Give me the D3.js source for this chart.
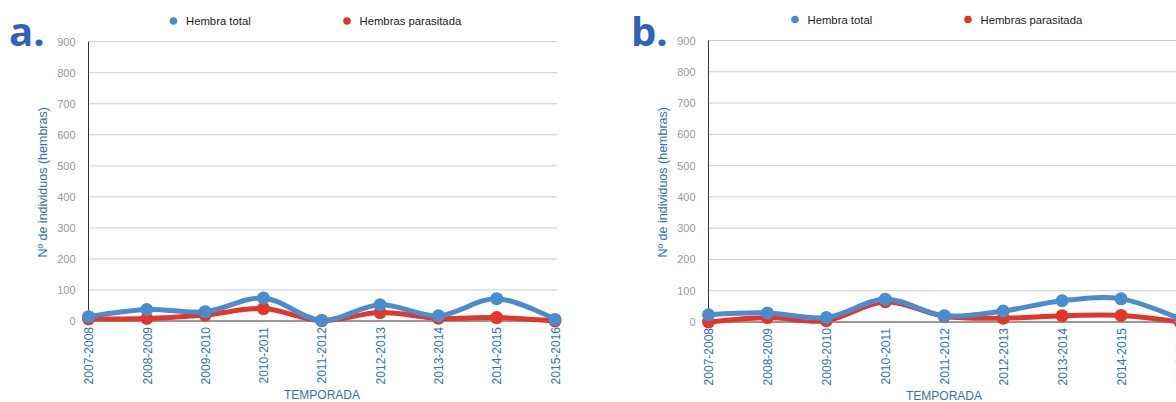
<!DOCTYPE html>
<html>
<head>
<meta charset="utf-8">
<script src="https://cdn.jsdelivr.net/npm/d3@7"></script>
<style>
  html, body { margin: 0; padding: 0; background: #fff; }
  svg { display: block; font-family: "Liberation Sans", Arial, sans-serif; }
</style>
</head>
<body>
<svg id="chart" width="1176" height="402"></svg>
<script>
// Seasons on the x axis
const temporadas = ["2007-2008", "2008-2009", "2009-2010", "2010-2011", "2011-2012",
                    "2012-2013", "2013-2014", "2014-2015", "2015-2016"];

// Panel a
const hembraTotalA = [14, 37, 30, 74, 2, 52, 17, 72, 5];
const parasitadaA  = [7, 8, 19, 40, 1, 27, 9, 11, 0];

// Panel b
const hembraTotalB = [23, 29, 14, 73, 20, 35, 68, 74, 10];
const parasitadaB  = [0, 14, 4, 65, 18, 12, 20, 21, 0];

// Y axis ticks
const yTicks = [0, 100, 200, 300, 400, 500, 600, 700, 800, 900];

const seriesNames = ["Hembra total", "Hembras parasitada"];

const BLUE = "#4a8dcf";
const RED = "#e5352a";
const LABEL_BLUE = "#2f72ba";

const svg = d3.select("#chart");

function drawPanel(cfg) {
  const g = svg.append("g");

  const x = d3.scalePoint().domain(temporadas).range([cfg.x0, cfg.x1]);
  const y = d3.scaleLinear().domain([0, 900]).range([cfg.yZero, cfg.yTop]);

  // horizontal gridlines
  g.selectAll("line.grid").data(yTicks.filter(t => t > 0)).enter().append("line")
    .attr("x1", cfg.x0).attr("x2", cfg.gridEnd)
    .attr("y1", d => y(d)).attr("y2", d => y(d))
    .attr("stroke", "#cccccc").attr("stroke-width", 1);

  // y tick labels
  const yAxis = d3.axisLeft(y).tickValues(yTicks).tickSize(0).tickPadding(13);
  const ya = g.append("g").attr("transform", `translate(${cfg.x0},0)`).call(yAxis);
  ya.select(".domain").remove();
  ya.selectAll("text").attr("fill", "#999").style("font-size", "11px")
    .style("font-family", "'Liberation Sans', Arial, sans-serif");

  // zero baseline and vertical axis
  g.append("line").attr("x1", cfg.x0).attr("x2", cfg.gridEnd)
    .attr("y1", y(0)).attr("y2", y(0)).attr("stroke", "#333").attr("stroke-width", 1);
  g.append("line").attr("x1", cfg.x0).attr("x2", cfg.x0)
    .attr("y1", y(900)).attr("y2", y(0)).attr("stroke", "#333").attr("stroke-width", 1);

  // x tick labels, rotated
  const xAxis = d3.axisBottom(x).tickSize(0).tickPadding(0);
  const xa = g.append("g").attr("transform", `translate(0,${y(0)})`).call(xAxis);
  xa.select(".domain").remove();
  xa.selectAll("text")
    .attr("fill", LABEL_BLUE)
    .style("font-size", "12px")
    .style("font-family", "'Liberation Sans', Arial, sans-serif")
    .attr("text-anchor", "end")
    .attr("dy", "0.35em")
    .attr("transform", "translate(0,6) rotate(-90)")
    .attr("x", 0).attr("y", 0);

  // axis titles
  g.append("text")
    .attr("transform", `translate(${cfg.yTitleX},${(y(0) + y(900)) / 2 + 1}) rotate(-90)`)
    .attr("text-anchor", "middle")
    .attr("fill", LABEL_BLUE)
    .style("font-size", "12.5px")
    .text("Nº de individuos (hembras)");

  g.append("text")
    .attr("x", cfg.xTitleX).attr("y", cfg.xTitleY)
    .attr("text-anchor", "middle")
    .attr("fill", LABEL_BLUE)
    .style("font-size", "12px")
    .text("TEMPORADA");

  // panel letter
  g.append("text")
    .attr("x", cfg.letterX).attr("y", cfg.letterY)
    .attr("fill", "#2f63b8")
    .style("font-family", "'Open Sans', 'DejaVu Sans', sans-serif")
    .style("font-weight", "700")
    .style("font-size", "40px")
    .text(cfg.letter);

  // legend
  const colors = [BLUE, RED];
  cfg.legend.forEach((lx, i) => {
    g.append("circle").attr("cx", lx).attr("cy", cfg.legendY).attr("r", 3.8)
      .attr("fill", colors[i]);
    g.append("text").attr("x", lx + 12.5).attr("y", cfg.legendY + 4)
      .attr("fill", "#222").style("font-size", "11.3px")
      .text(seriesNames[i]);
  });

  // series: parasitized first, total on top
  const line = d3.line()
    .x((d, i) => x(temporadas[i]))
    .y(d => y(d))
    .curve(d3.curveCatmullRom.alpha(0.5));

  [[cfg.red, RED], [cfg.blue, BLUE]].forEach(([vals, col]) => {
    g.append("path").datum(vals)
      .attr("d", line)
      .attr("fill", "none")
      .attr("stroke", col)
      .attr("stroke-width", 5)
      .attr("stroke-linejoin", "round")
      .attr("stroke-linecap", "round");
    g.selectAll(null).data(vals).enter().append("circle")
      .attr("cx", (d, i) => x(temporadas[i]))
      .attr("cy", d => y(d))
      .attr("r", 6.5)
      .attr("fill", col);
  });
}

drawPanel({
  letter: "a.", letterX: 9, letterY: 46,
  x0: 88.5, x1: 555, gridEnd: 557,
  yZero: 321, yTop: 41.7,
  yTitleX: 47, xTitleX: 322, xTitleY: 399,
  legend: [173.5, 347], legendY: 21,
  blue: hembraTotalA, red: parasitadaA
});

drawPanel({
  letter: "b.", letterX: 631, letterY: 46,
  x0: 708.5, x1: 1180, gridEnd: 1190,
  yZero: 322, yTop: 40.5,
  yTitleX: 667, xTitleX: 944, xTitleY: 400,
  legend: [795, 968], legendY: 19.5,
  blue: hembraTotalB, red: parasitadaB
});
</script>
</body>
</html>
